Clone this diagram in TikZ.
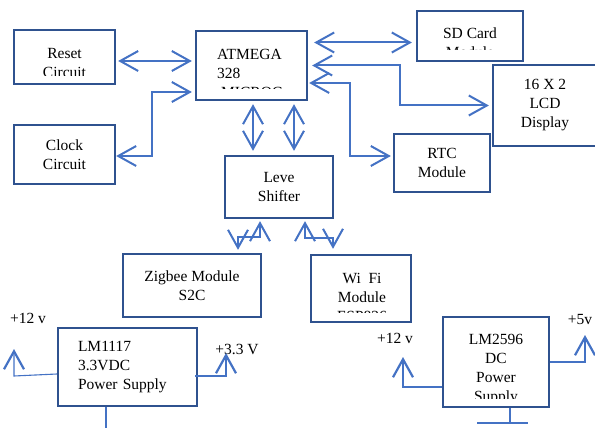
\documentclass[tikz,border=0pt]{standalone}
\usepackage{fontspec}
\setmainfont{Liberation Serif}
\usepackage{tikz}
\usetikzlibrary{arrows.meta, positioning, calc}
\definecolor{boxblue}{HTML}{2F528F}
\definecolor{linkblue}{HTML}{4472C4}
\tikzstyle{block} = [
  rectangle, draw=boxblue, line width=2.3pt,
  align=center, inner sep=0pt,
  font=\fontsize{15.5}{19}\selectfont
]
\tikzstyle{txt} = [inner sep=0pt, align=center, font=\fontsize{15.5}{19}\selectfont]
\tikzstyle{link} = [{Straight Barb[length=18pt,width=20pt]}-{Straight Barb[length=18pt,width=20pt]}, line width=2pt, draw=linkblue]
\tikzstyle{supply} = [-{Straight Barb[length=18pt,width=20pt,line width=2.2pt]}, line width=1.1pt, draw=linkblue]

\begin{document}
\begin{tikzpicture}[x=1pt, y=-1pt]
  \useasboundingbox (0,0) rectangle (595,428);

  % Microcontroller and its helpers
  \node[block, minimum width=111pt, minimum height=69pt] (mcu) at (251.5,65.5) {};
  \node[block, minimum width=101pt, minimum height=54pt] (reset) at (64.5,57) {};
  \node[block, minimum width=101pt, minimum height=59pt] (clock) at (64.5,154.5) {Clock\\Circuit};

  % Peripherals
  \node[block, minimum width=106pt, minimum height=50pt] (sd) at (470,36) {};
  \node[block, minimum width=104pt, minimum height=81pt] (lcd) at (545,105.5) {16 X 2\\LCD\\Display};
  \node[block, minimum width=96pt, minimum height=58pt] (rtc) at (442,163) {RTC\\Module};
  \node[block, minimum width=108pt, minimum height=62pt] (shifter) at (279,187) {Leve\\Shifter};
  \node[block, minimum width=138pt, minimum height=63pt] (zigbee) at (192,285.5) {Zigbee Module\\S2C};
  \node[block, minimum width=100pt, minimum height=67pt] (wifi) at (361,288.5) {};

  % Power supplies
  \node[block, align=left, text width=99pt, inner xsep=20pt, minimum height=78pt] (lm1117) at (127.5,367) {LM1117\\3.3VDC\\Power Supply};
  \node[block, minimum width=106pt, minimum height=90pt] (lm2596) at (496,362) {};

  % Text boxes cut off at the bottom
  \begin{scope}
    \clip (reset.north west) rectangle ([yshift=10pt]reset.south east);
    \node[txt] (resettxt) at (64.5,63.5) {Reset\\Circuit};
  \end{scope}
  \begin{scope}
    \clip (mcu.north west) rectangle ([yshift=12.5pt]mcu.south east);
    \node[txt, align=left, anchor=west] (mcutxt) at (217,73) {ATMEGA\\328\\\hspace{4pt}MICROC};
  \end{scope}
  \begin{scope}
    \clip (sd.north west) rectangle ([yshift=12.5pt]sd.south east);
    \node[txt] (sdtxt) at (470,43) {SD Card\\Module};
  \end{scope}
  \begin{scope}
    \clip (wifi.north west) rectangle ([yshift=10.5pt]wifi.south east);
    \node[txt] (wifitxt) at (362,297.5) {Wi\ \ Fi\\Module\\ESP826};
  \end{scope}
  \begin{scope}
    \clip (lm2596.north west) rectangle ([yshift=10pt]lm2596.south east);
    \node[txt] (lm2596txt) at (496,369.5) {LM2596\\DC\\Power\\Supply};
  \end{scope}

  % Voltage labels
  \node[txt] (v12a) at (28,318) {+12 v};
  \node[txt] (v33) at (237,349) {+3.3 V};
  \node[txt] (v12b) at (395,338) {+12 v};
  \node[txt] (v5) at (580,319) {+5v};

  % Free ends of the supply lines
  \coordinate (in12a) at (14,349);
  \coordinate (out33) at (226,353);
  \coordinate (gnda) at (106,430);
  \coordinate (in12b) at (403,357);
  \coordinate (out5) at (585,335);
  \coordinate (gndb) at (510,423);

  % Links
  \draw[link] ([xshift=2pt,yshift=-4pt]reset.east) -- ([xshift=-3pt,yshift=4.5pt]mcu.west);
  \draw[link] ([xshift=-3pt,yshift=-26.5pt]mcu.west) -- ++(-40,0) |- ([yshift=-1.5pt]clock.east);
  \draw[link] ([xshift=6pt,yshift=23pt]mcu.east) -- ([xshift=-4pt,yshift=-6.5pt]sd.west);
  \draw[link] ([xshift=4pt]mcu.east) -- ++(88,0) |- ([xshift=-3pt]lcd.west);
  \draw[link] ([xshift=1pt,yshift=-17.5pt]mcu.east) -- ++(41,0) |- ([xshift=-2pt,yshift=7pt]rtc.west);
  \draw[link] ([xshift=1.5pt,yshift=-3pt]mcu.south) -- ([xshift=-26pt,yshift=4pt]shifter.north);
  \draw[link] ([xshift=42.5pt,yshift=-3pt]mcu.south) -- ([xshift=15pt,yshift=4pt]shifter.north);
  \draw[link] ([xshift=-19pt,yshift=-2pt]shifter.south) -- ++(0,16) -| ([xshift=46pt,yshift=3pt]zigbee.north);
  \draw[link] ([xshift=26pt,yshift=-2pt]shifter.south) -- ++(0,17) -| ([xshift=-28pt,yshift=5pt]wifi.north);

  % Supply lines
  \draw[supply] ([yshift=-7pt]lm1117.west) -- (in12a |- 0,376) -- (in12a);
  \draw[supply] ([xshift=-3pt,yshift=-9pt]lm1117.east) -- (out33 |- 0,376) -- (out33);
  \draw[supply, -] ([xshift=-21.5pt]lm1117.south) -- (gnda);
  \draw[supply] ([yshift=-25pt]lm2596.west) -- (in12b |- 0,387) -- (in12b);
  \draw[supply] (lm2596.east) -- (out5 |- lm2596.east) -- (out5);
  \draw[supply, -] ([xshift=14pt]lm2596.south) -- (gndb);
  \draw[supply, -] ([xshift=-33pt]gndb) -- ([xshift=18pt]gndb);

\end{tikzpicture}
\end{document}
